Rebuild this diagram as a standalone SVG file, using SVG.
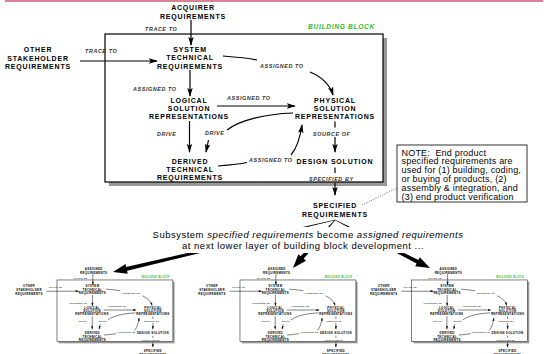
<svg xmlns="http://www.w3.org/2000/svg" xmlns:xlink="http://www.w3.org/1999/xlink" width="544" height="354" viewBox="0 0 544 354">
<style>
.n{font-family:"Liberation Sans",Arial,sans-serif;font-weight:bold;font-size:7px;letter-spacing:0.8px;text-anchor:middle;fill:#000}
.l{font-family:"Liberation Sans",Arial,sans-serif;font-weight:bold;font-style:italic;font-size:5.4px;letter-spacing:0.6px;fill:#333}
.bb{font-family:"Liberation Sans",Arial,sans-serif;font-weight:bold;font-style:italic;font-size:6.6px;letter-spacing:0.7px;fill:#2DBE2D;text-anchor:end}
.c{stroke:#000;stroke-width:1.2;fill:none}
.a{marker-end:url(#ah)}
.note{font-family:"Liberation Sans",Arial,sans-serif;font-size:9px;letter-spacing:0.2px;fill:#000}
.sub{font-family:"Liberation Sans",Arial,sans-serif;font-size:9.5px;letter-spacing:0.5px;fill:#000;text-anchor:middle}
</style>
<defs>
<marker id="ah" viewBox="0 0 10 6" refX="9" refY="3" markerWidth="9" markerHeight="5.4" orient="auto" markerUnits="userSpaceOnUse">
<path d="M0,0 L10,3 L0,6 L2,3 z" fill="#000"/>
</marker>
</defs>
<line x1="5" y1="1" x2="543" y2="1" stroke="#C8587A" stroke-width="1.6"/>

<g id="block">
  <g id="building-block">
    <rect x="109" y="38" width="278" height="148" fill="#999"/>
    <rect x="105" y="34" width="278" height="148" fill="#fff" stroke="#000" stroke-width="1.2"/>
    <text class="bb" x="375" y="29">BUILDING BLOCK</text>
  </g>
  <g id="connectors">
    <line class="c a" x1="191" y1="20" x2="191" y2="45"/>
    <line class="c a" x1="80" y1="61" x2="157" y2="61"/>
    <path class="c" d="M223,56 C236,57 248,58 257,60"/>
    <path class="c a" d="M310,72 C322,77 330,85 333,95"/>
    <line class="c a" x1="190" y1="70" x2="190" y2="96"/>
    <line class="c a" x1="217" y1="106" x2="295" y2="106"/>
    <path class="c" d="M293,113 C265,114 240,120 227,130"/>
    <line class="c a" x1="208.5" y1="140" x2="206" y2="152"/>
    <line class="c a" x1="189.5" y1="121" x2="189.5" y2="152"/>
    <path class="c" d="M218,166 C230,165 240,164 247,162.5"/>
    <path class="c a" d="M291,155 C297,148 300,138 302,125"/>
    <line class="c" x1="335" y1="121.5" x2="335" y2="127.5"/>
    <line class="c a" x1="335" y1="137" x2="335" y2="152"/>
    <line class="c" x1="335" y1="167.5" x2="335" y2="173"/>
    <line class="c a" x1="335" y1="183" x2="335" y2="195"/>
  </g>
  <g id="labels">
    <text class="l" x="145" y="31">TRACE TO</text>
    <text class="l" x="85" y="52.5">TRACE TO</text>
    <text class="l" x="260" y="67.5">ASSIGNED TO</text>
    <text class="l" x="133" y="91">ASSIGNED TO</text>
    <text class="l" x="227" y="99.5">ASSIGNED TO</text>
    <text class="l" x="157" y="135.5">DRIVE</text>
    <text class="l" x="205" y="135">DRIVE</text>
    <text class="l" x="249" y="161.5">ASSIGNED TO</text>
    <text class="l" x="313" y="135.5">SOURCE OF</text>
    <text class="l" x="309" y="180.5">SPECIFIED BY</text>
  </g>
  <g id="other-stakeholder">
    <text class="n" x="38" y="52">OTHER</text>
    <text class="n" x="38" y="60.5">STAKEHOLDER</text>
    <text class="n" x="38" y="69">REQUIREMENTS</text>
  </g>
  <g id="system-technical">
    <text class="n" x="190" y="52">SYSTEM</text>
    <text class="n" x="190" y="60.2">TECHNICAL</text>
    <text class="n" x="190" y="68.5">REQUIREMENTS</text>
  </g>
  <g id="logical-solution">
    <text class="n" x="189" y="102.7">LOGICAL</text>
    <text class="n" x="189" y="110.9">SOLUTION</text>
    <text class="n" x="189" y="119">REPRESENTATIONS</text>
  </g>
  <g id="physical-solution">
    <text class="n" x="335" y="102.7">PHYSICAL</text>
    <text class="n" x="335" y="110.9">SOLUTION</text>
    <text class="n" x="335" y="119">REPRESENTATIONS</text>
  </g>
  <g id="derived-technical">
    <text class="n" x="190" y="164.2">DERIVED</text>
    <text class="n" x="190" y="172">TECHNICAL</text>
    <text class="n" x="190" y="179.5">REQUIREMENTS</text>
  </g>
  <g id="design-solution">
    <text class="n" x="335" y="163.8">DESIGN SOLUTION</text>
  </g>
  <g id="specified-requirements">
    <text class="n" x="335" y="207.5">SPECIFIED</text>
    <text class="n" x="335" y="216.5">REQUIREMENTS</text>
  </g>
</g>

<g id="acquirer-requirements">
  <text class="n" x="193" y="10">ACQUIRER</text>
  <text class="n" x="193" y="18.5">REQUIREMENTS</text>
</g>

<g id="note">
  <line x1="362" y1="205" x2="397" y2="188" stroke="#444" stroke-width="0.8" stroke-dasharray="1,1.5"/>
  <rect x="397" y="145" width="130" height="57" fill="#fff" stroke="#333" stroke-width="1"/>
  <text class="note" x="401.5" y="155.5" xml:space="preserve">NOTE:  End product</text>
  <text class="note" x="401.5" y="164.3">specified requirements are</text>
  <text class="note" x="401.5" y="173.1">used for (1) building, coding,</text>
  <text class="note" x="401.5" y="181.9">or buying of products, (2)</text>
  <text class="note" x="401.5" y="190.7">assembly &amp; integration, and</text>
  <text class="note" x="401.5" y="199.5">(3) end product verification</text>
</g>

<g id="fan-arrows" fill="#000">
  <polygon points="334.9,219.7 126.1,266.9 125.5,263.9 113,272 127.7,273.7 127.1,270.7 335.1,220.3"/>
  <polygon points="334.8,219.8 300.7,256.2 298.4,254.2 293,268 306,260.8 303.7,258.8 335.2,220.2"/>
  <polygon points="334.9,220.3 416.6,263.5 415.2,266.2 430,268 419.8,257.2 418.4,259.9 335.1,219.7"/>
</g>

<g id="subsystem-text">
  <rect x="145" y="227" width="350" height="26" fill="#fff"/>
  <text class="sub" x="308" y="238">Subsystem <tspan font-style="italic">specified requirements</tspan> become <tspan font-style="italic">assigned requirements</tspan></text>
  <text class="sub" x="303" y="248.5">at next lower layer of building block development ...</text>
</g>

<g id="sub-block-1" transform="translate(13.2,265.8) scale(0.417)">
  <use xlink:href="#block" href="#block"/>
  <text class="n" x="193" y="10">ASSIGNED</text>
  <text class="n" x="193" y="18.5">REQUIREMENTS</text>
</g>
<g id="sub-block-2" transform="translate(196.2,265.8) scale(0.417)">
  <use xlink:href="#block" href="#block"/>
  <text class="n" x="193" y="10">ASSIGNED</text>
  <text class="n" x="193" y="18.5">REQUIREMENTS</text>
</g>
<g id="sub-block-3" transform="translate(367.9,265.8) scale(0.417)">
  <use xlink:href="#block" href="#block"/>
  <text class="n" x="193" y="10">ASSIGNED</text>
  <text class="n" x="193" y="18.5">REQUIREMENTS</text>
</g>
</svg>
